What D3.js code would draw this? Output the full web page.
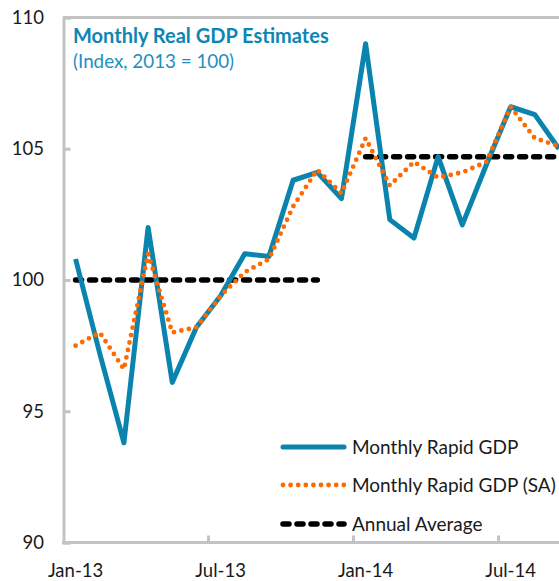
<!DOCTYPE html>
<html>
<head>
<meta charset="utf-8">
<script src="https://cdn.jsdelivr.net/npm/d3@7"></script>
<style>
  html, body { margin: 0; padding: 0; background: #fff; }
  svg { display: block; font-family: Lato, "Open Sans", sans-serif; }
</style>
</head>
<body>
<svg id="chart" width="559" height="581"></svg>
<script>
// ---- data ----
const months = ["Jan-13","Feb-13","Mar-13","Apr-13","May-13","Jun-13","Jul-13","Aug-13","Sep-13","Oct-13","Nov-13","Dec-13",
                "Jan-14","Feb-14","Mar-14","Apr-14","May-14","Jun-14","Jul-14","Aug-14","Sep-14"];
const rapidGDP   = [100.8, 97.2, 93.8, 102.0, 96.1, 98.2, 99.4, 101.0, 100.9, 103.8, 104.1, 103.1,
                    109.0, 102.3, 101.6, 104.7, 102.1, 104.4, 106.6, 106.3, 105.0];
const rapidGDPSA = [97.5, 98.0, 96.6, 101.0, 98.0, 98.2, 99.4, 100.3, 100.8, 102.8, 104.2, 103.3,
                    105.4, 103.6, 104.5, 103.9, 104.1, 104.5, 106.6, 105.4, 105.1];
const annualAvg  = [100, 100, 100, 100, 100, 100, 100, 100, 100, 100, 100, null,
                    104.7, 104.7, 104.7, 104.7, 104.7, 104.7, 104.7, 104.7, 104.7];
const yTicks = [90, 95, 100, 105, 110];
const xTickLabels = ["Jan-13", "Jul-13", "Jan-14", "Jul-14"];
const seriesNames = ["Monthly Rapid GDP", "Monthly Rapid GDP (SA)", "Annual Average"];
const title = "Monthly Real GDP Estimates";
const subtitle = "(Index, 2013 = 100)";

// ---- layout ----
const svg = d3.select("#chart");
const mLeft = 63.5, mTop = 17.5, mBottom = 542.5, step = 24.17;
const x = d3.scaleBand().domain(months).range([mLeft, mLeft + step * months.length]).padding(0);
const y = d3.scaleLinear().domain([90, 110]).range([mBottom, mTop]);
const cx = d => x(d) + x.bandwidth() / 2;

const blue = "#0a84ae", orange = "#ff6a00", gray = "#c3c3c3";

// frame: top line + left axis + bottom axis
svg.append("line").attr("x1", mLeft).attr("x2", 559).attr("y1", y(110)).attr("y2", y(110))
  .attr("stroke", gray).attr("stroke-width", 3);

const yAxis = d3.axisRight(y).tickValues(yTicks).tickSize(7).tickFormat("");
const gy = svg.append("g").attr("transform", `translate(${mLeft},0)`).call(yAxis);
gy.select(".domain").attr("stroke", gray).attr("stroke-width", 3);
gy.selectAll(".tick line").attr("stroke", gray).attr("stroke-width", 3);

// y labels
svg.append("g").selectAll("text").data(yTicks).join("text")
  .attr("x", 44).attr("y", d => y(d)).attr("dy", "0.35em")
  .attr("text-anchor", "end").attr("font-size", 18.5).attr("fill", "#1a1a1a")
  .text(d => d);

// x axis
const xAxis = d3.axisTop(x).tickValues(xTickLabels.slice(1)).tickSize(7).tickFormat("");
const gx = svg.append("g").attr("transform", `translate(0,${mBottom})`).call(xAxis);
gx.select(".domain").remove();
gx.append("line").attr("x1", mLeft - 1.5).attr("x2", 559).attr("y1", 0).attr("y2", 0)
  .attr("stroke", gray).attr("stroke-width", 3);
gx.selectAll(".tick").attr("transform", d => `translate(${x(d)},0)`);
gx.selectAll(".tick line").attr("stroke", gray).attr("stroke-width", 3);

svg.append("g").selectAll("text").data(xTickLabels).join("text")
  .attr("x", d => cx(d)).attr("y", 577)
  .attr("text-anchor", "middle").attr("font-size", 18.5).attr("fill", "#1a1a1a")
  .text(d => d);

// lines
const line = d3.line().defined(d => d.v != null).x(d => cx(d.m)).y(d => y(d.v));
const toPts = arr => arr.map((v, i) => ({ m: months[i], v }));

svg.append("path").datum(toPts(annualAvg)).attr("d", line)
  .attr("fill", "none").attr("stroke", "#000").attr("stroke-width", 5.5)
  .attr("stroke-dasharray", "6,8").attr("stroke-linecap", "round");

svg.append("path").datum(toPts(rapidGDP)).attr("d", line)
  .attr("fill", "none").attr("stroke", blue).attr("stroke-width", 5)
  .attr("stroke-linejoin", "round");

svg.append("path").datum(toPts(rapidGDPSA)).attr("d", line)
  .attr("fill", "none").attr("stroke", orange).attr("stroke-width", 4.8)
  .attr("stroke-dasharray", "0,7.6").attr("stroke-linecap", "round");

// title
svg.append("text").attr("x", 73).attr("y", 43).attr("font-size", 20).attr("font-weight", "bold")
  .attr("fill", "#0c86b4").text(title);
svg.append("text").attr("x", 73).attr("y", 68).attr("font-size", 18.8)
  .attr("fill", "#1e90c0").text(subtitle);

// legend
const legY = [447, 485, 524];
const lg = svg.append("g");
const styles = [
  { stroke: blue, w: 5, dash: null, cap: "round" },
  { stroke: orange, w: 4.8, dash: "0,7.6", cap: "round" },
  { stroke: "#000", w: 5.5, dash: "6,8", cap: "round" }
];
seriesNames.forEach((name, i) => {
  const s = styles[i];
  const l = lg.append("line").attr("x1", 283).attr("x2", 344).attr("y1", legY[i]).attr("y2", legY[i])
    .attr("stroke", s.stroke).attr("stroke-width", s.w).attr("stroke-linecap", s.cap);
  if (s.dash) l.attr("stroke-dasharray", s.dash);
  lg.append("text").attr("x", 352).attr("y", legY[i]).attr("dy", "0.35em")
    .attr("font-size", 19).attr("fill", "#1a1a1a").text(name);
});
</script>
</body>
</html>
